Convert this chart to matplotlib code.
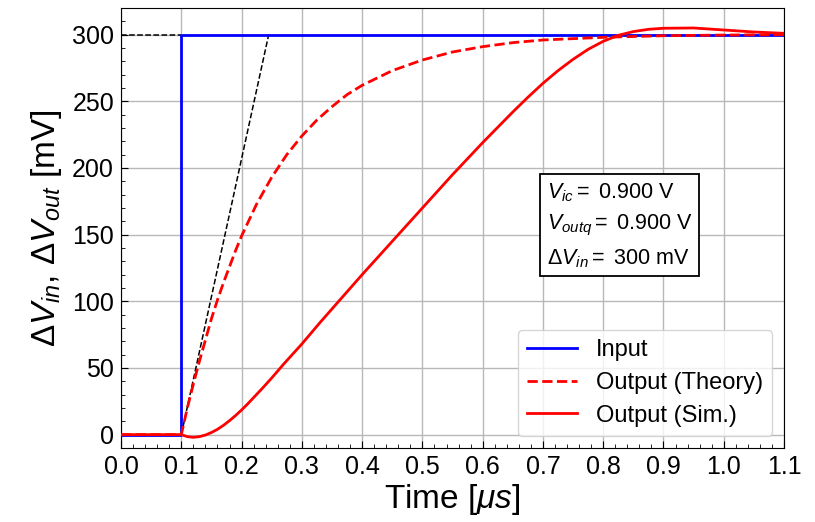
import matplotlib
matplotlib.use("Agg")
import matplotlib.pyplot as plt

plt.rcParams['font.family'] = ['Liberation Sans', 'DejaVu Sans']
plt.rcParams['mathtext.fontset'] = 'custom'
plt.rcParams['mathtext.rm'] = 'Liberation Sans'
plt.rcParams['mathtext.it'] = 'Liberation Sans:italic'
plt.rcParams['mathtext.bf'] = 'Liberation Sans:bold'

# Input step
t_in = [0.0, 0.1, 0.1, 1.1]
v_in = [0, 0, 300, 300]

# Theory output
t_th = [0.0, 0.1, 0.11, 0.12, 0.13, 0.14, 0.15, 0.16, 0.17, 0.18, 0.19, 0.2, 0.225, 0.25, 0.275,
        0.3, 0.325, 0.35, 0.375, 0.4, 0.45, 0.5, 0.55, 0.6, 0.65, 0.7, 0.75, 0.8, 0.9, 1.0, 1.1]
v_th = [0, 0, 20, 38, 55, 71, 87, 101, 114, 126, 138, 149, 173, 193, 210,
        224, 236, 246, 255, 262, 273, 281, 287, 291, 294, 296, 297, 298, 299.2, 299.7, 300]

# Simulated output
t_sim = [0.0, 0.1, 0.11, 0.12, 0.13, 0.14, 0.15, 0.16, 0.17, 0.18, 0.19, 0.2, 0.21, 0.22, 0.235,
         0.25, 0.27, 0.3, 0.33, 0.365, 0.4, 0.45, 0.5, 0.55, 0.6, 0.65, 0.675, 0.7, 0.725, 0.75,
         0.775, 0.8, 0.825, 0.85, 0.875, 0.9, 0.95, 1.0, 1.05, 1.1]
v_sim = [0, 0, -1.5, -2, -1.5, -0.3, 1.6, 4.0, 7.0, 10.5, 14.3, 18.5, 23, 27.8, 35,
         42.5, 53, 68, 84, 102, 120, 145, 170, 195, 219, 242, 253, 263.5, 273, 281.5,
         289, 295, 299.5, 302.3, 304, 304.8, 305, 303.5, 302, 301]

# Tangent guide lines
t_tan = [0.1, 0.245]
v_tan = [0, 300]
t_hline = [0.0, 0.1]
v_hline = [300, 300]

fig = plt.figure(figsize=(8.15, 5.22), dpi=100)
ax = fig.add_axes([0.1485, 0.1418, 0.8135, 0.8429])

ax.plot(t_hline, v_hline, color='black', ls='--', lw=1.1, zorder=3)
ax.plot(t_tan, v_tan, color='black', ls='--', lw=1.1, zorder=3)
ax.plot(t_in, v_in, color='blue', lw=2, label='Input', zorder=4)
ax.plot(t_th, v_th, color='red', ls='--', lw=2, label='Output (Theory)', zorder=4)
ax.plot(t_sim, v_sim, color='red', lw=2, label='Output (Sim.)', zorder=5)

ax.set_xlim(0, 1.1)
ax.set_ylim(-10, 320)
xt = [0.0, 0.1, 0.2, 0.3, 0.4, 0.5, 0.6, 0.7, 0.8, 0.9, 1.0, 1.1]
ax.set_xticks(xt)
ax.set_xticklabels([f"{v:.1f}" for v in xt])
ax.set_yticks([0, 50, 100, 150, 200, 250, 300])
ax.xaxis.set_minor_locator(matplotlib.ticker.MultipleLocator(0.02))
ax.yaxis.set_minor_locator(matplotlib.ticker.MultipleLocator(10))
ax.tick_params(which='both', direction='in', top=False, right=False)
ax.tick_params(which='major', length=5, labelsize=18, pad=5)
ax.tick_params(which='minor', length=3)
ax.grid(True, which='major', color='#b8b8b8', lw=1)
ax.set_axisbelow(True)

ax.set_xlabel(r'Time [$\mu s$]', fontsize=24, labelpad=2)
ax.set_ylabel(r'$\Delta V_{in}$, $\Delta V_{out}$ [mV]', fontsize=24, labelpad=6)

ax.text(0.642, 0.607,
        '$V_{ic} =$ 0.900 V\n$V_{outq} =$ 0.900 V\n$\\Delta V_{in} =$ 300 mV',
        transform=ax.transAxes, fontsize=15.5, va='top', ha='left', linespacing=1.55,
        bbox=dict(boxstyle='square,pad=0.3', fc='white', ec='black', lw=1.3))

leg = ax.legend(loc='lower right', fontsize=17, handlelength=2.1, borderaxespad=0.5,
                labelspacing=0.45)

fig.savefig('out.png', dpi=100)
